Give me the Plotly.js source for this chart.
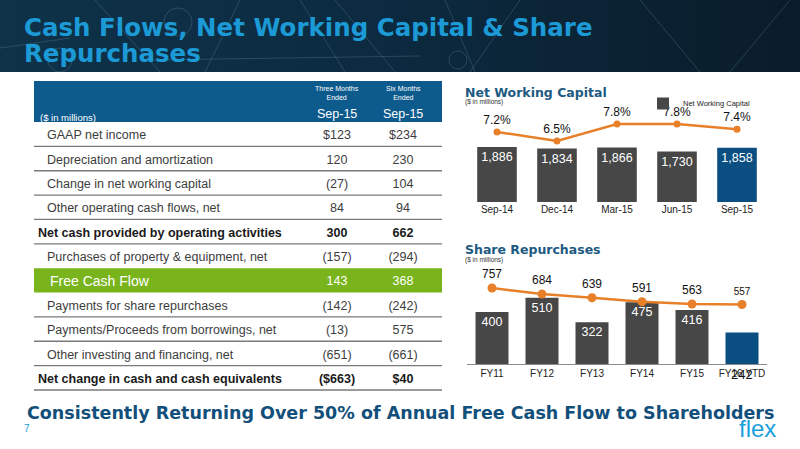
<!DOCTYPE html>
<html><head><meta charset="utf-8">
<script src="https://cdn.plot.ly/plotly-3.0.1.min.js"></script>
<style>
html,body{margin:0;padding:0;background:#fff;}
#wrap{position:relative;width:800px;height:449px;overflow:hidden;background:#fff;}
#banner{position:absolute;left:0;top:0;width:800px;height:72px;background:linear-gradient(90deg,#0f3249 0%,#0c2b41 45%,#0a1c29 100%);}
#chart{position:absolute;left:0;top:0;width:800px;height:449px;}
</style></head><body>
<div id="wrap"><div id="banner"></div><div id="chart"></div></div>
<script>
// ---------------- data ----------------
const slideTitle = ['Cash Flows, Net Working Capital & Share', 'Repurchases'];
const tableUnits = '($ in millions)';
const tablePeriods = ['Three Months<br>Ended', 'Six Months<br>Ended'];
const tablePeriodDates = ['Sep-15', 'Sep-15'];
const tableLabels = [
  'GAAP net income',
  'Depreciation and amortization',
  'Change in net working capital',
  'Other operating cash flows, net',
  'Net cash provided by operating activities',
  'Purchases of property & equipment, net',
  'Free Cash Flow',
  'Payments for share repurchases',
  'Payments/Proceeds from borrowings, net',
  'Other investing and financing, net',
  'Net change in cash and cash equivalents'
];
const threeMonths = ['$123', '120', '(27)', '84', '300', '(157)', '143', '(142)', '(13)', '(651)', '($663)'];
const sixMonths   = ['$234', '230', '104', '94', '662', '(294)', '368', '(242)', '575', '(661)', '$40'];

const nwcTitle = 'Net Working Capital';
const nwcQuarters = ['Sep-14', 'Dec-14', 'Mar-15', 'Jun-15', 'Sep-15'];
const nwcValues = [1886, 1834, 1866, 1730, 1858];
const nwcPct = [7.2, 6.5, 7.8, 7.8, 7.4];

const repTitle = 'Share Repurchases';
const repYears = ['FY11', 'FY12', 'FY13', 'FY14', 'FY15', 'FY16 YTD'];
const repValues = [400, 510, 322, 475, 416, 242];
const repLine = [757, 684, 639, 591, 563, 557];

const unitsNote = '($ in millions)';
const footerText = 'Consistently Returning Over 50% of Annual Free Cash Flow to Shareholders';
const pageNumber = '7';
const logoText = 'flex';

// ---------------- styles ----------------
const W = 800, H = 449;
const X = px => px / W;
const Y = px => 1 - px / H;
const boldRows = [4, 10];
const fcfRow = 6;
const GRAY = '#474747', NAVY = '#0b4f82', ORANGE = '#e8802a', GREEN = '#79b41c';
const TBL_BLUE = '#0d5a8c';
const SANS = '"Liberation Sans", Arial, sans-serif';
const DV = '"DejaVu Sans", sans-serif';

const tblLeft = 34, tblRight = 442, tblTop = 81, hdrBottom = 122, tblBottom = 390;
const rowH = (tblBottom - hdrBottom) / tableLabels.length;
const textDrop = 2;                     // optical centring of row text
const colCenter = [337, 403];           // pixel centres of the two value columns
const indentFor = i => boldRows.includes(i) ? 38 : (i === fcfRow ? 50 : 47);

const rowIdx = tableLabels.map((t, i) => i);
const rowColor = i => i === fcfRow ? '#ffffff' : (boldRows.includes(i) ? '#1a1a1a' : '#3d3d3d');
const wrapBold = (t, i) => boldRows.includes(i) ? '<b>' + t + '</b>' : t;

const tblLabelTrace = {
  type: 'scatter', mode: 'text', xaxis: 'x3', yaxis: 'y5',
  x: tableLabels.map((t, i) => indentFor(i) - tblLeft), y: rowIdx,
  text: tableLabels.map(wrapBold), textposition: 'middle right',
  textfont: {family: SANS, size: tableLabels.map((t, i) => i === fcfRow ? 14 : 12.5), color: tableLabels.map((t, i) => rowColor(i))},
  showlegend: false, hoverinfo: 'skip', cliponaxis: false
};
const valueTrace = (vals, c) => ({
  type: 'scatter', mode: 'text', xaxis: 'x3', yaxis: 'y5',
  x: vals.map(() => colCenter[c] - tblLeft), y: rowIdx,
  text: vals.map(wrapBold), textposition: 'middle center',
  textfont: {family: SANS, size: 12.5, color: vals.map((t, i) => rowColor(i))},
  showlegend: false, hoverinfo: 'skip', cliponaxis: false
});

const fmt = v => v.toLocaleString('en-US');

const nwcBars = {
  type: 'bar', name: nwcTitle, x: nwcQuarters, y: nwcValues, xaxis: 'x', yaxis: 'y',
  marker: {color: nwcValues.map((v, i) => i === nwcValues.length - 1 ? NAVY : GRAY)},
  text: nwcValues.map(fmt), textposition: 'inside', insidetextanchor: 'end', textangle: 0,
  insidetextfont: {family: SANS, size: 12.5, color: '#ffffff'},
  showlegend: true
};
const nwcLine = {
  type: 'scatter', mode: 'lines+markers+text', x: nwcQuarters, y: nwcPct, xaxis: 'x', yaxis: 'y2',
  line: {color: ORANGE, width: 2.5}, marker: {color: ORANGE, size: 7},
  text: nwcPct.map(v => v.toFixed(1) + '%'), textposition: 'top center',
  textfont: {family: SANS, size: 12, color: '#111111'}, showlegend: false, cliponaxis: false
};
const repBars = {
  type: 'bar', name: repTitle, x: repYears, y: repValues, xaxis: 'x2', yaxis: 'y3',
  marker: {color: repValues.map((v, i) => i === repValues.length - 1 ? NAVY : GRAY)},
  text: repValues.map((v, i) => i === repValues.length - 1 ? '' : String(v)),
  textposition: 'inside', insidetextanchor: 'end', textangle: 0,
  insidetextfont: {family: SANS, size: 12.5, color: '#ffffff'},
  showlegend: false
};
const repLineTr = {
  type: 'scatter', mode: 'lines+markers+text', x: repYears, y: repLine, xaxis: 'x2', yaxis: 'y4',
  line: {color: ORANGE, width: 2.5}, marker: {color: ORANGE, size: 9},
  text: repLine.map(String), textposition: 'top center',
  textfont: {family: SANS, size: repLine.map((v, i) => i === repLine.length - 1 ? 10 : 12), color: '#111111'},
  showlegend: false, cliponaxis: false
};

const shapes = [];
// table header band and Free Cash Flow row
shapes.push({type: 'rect', xref: 'paper', yref: 'paper', x0: X(tblLeft), x1: X(tblRight), y0: Y(hdrBottom), y1: Y(tblTop),
  fillcolor: TBL_BLUE, line: {width: 0}, layer: 'below'});
shapes.push({type: 'rect', xref: 'paper', yref: 'paper', x0: X(tblLeft), x1: X(tblRight),
  y0: Y(hdrBottom + rowH * (fcfRow + 1)), y1: Y(hdrBottom + rowH * fcfRow),
  fillcolor: GREEN, line: {width: 0}, layer: 'below'});
// row separators
rowIdx.forEach(i => {
  if (i === fcfRow || i === fcfRow - 1) return;
  const y = hdrBottom + rowH * (i + 1);
  shapes.push({type: 'line', xref: 'paper', yref: 'paper', x0: X(tblLeft), x1: X(tblRight), y0: Y(y), y1: Y(y),
    line: {color: '#7a7a7a', width: 1.3}});
});
// banner decoration
const deco = 'rgba(150,180,200,0.22)';
[[0,48,70,38],[95,0,160,72],[240,0,205,72],[300,0,345,72],[335,0,395,72],[445,0,475,72],[520,0,470,72],[640,0,700,72],[790,0,730,72],[150,60,420,56]].forEach(l => {
  shapes.push({type: 'line', xref: 'paper', yref: 'paper', x0: X(l[0]), y0: Y(l[1]), x1: X(l[2]), y1: Y(l[3]), line: {color: deco, width: 1}});
});
[[178, 22, 14], [458, 60, 9], [60, 60, 12]].forEach(c => {
  shapes.push({type: 'circle', xref: 'paper', yref: 'paper', x0: X(c[0]-c[2]), x1: X(c[0]+c[2]), y0: Y(c[1]+c[2]), y1: Y(c[1]-c[2]), line: {color: deco, width: 1}});
});

const P = {xref: 'paper', yref: 'paper', showarrow: false};
const annotations = [
  {...P, text: tableUnits, x: X(tblLeft + 4), y: Y(117), xanchor: 'left', yanchor: 'middle',
   font: {family: SANS, size: 9.5, color: '#ffffff'}},
  ...tablePeriods.map((t, i) => ({...P, text: t, x: X(colCenter[i]), y: Y(93.5), xanchor: 'center', yanchor: 'middle',
   font: {family: SANS, size: 7, color: '#ffffff'}})),
  ...tablePeriodDates.map((t, i) => ({...P, text: t, x: X(colCenter[i]), y: Y(114), xanchor: 'center', yanchor: 'middle',
   font: {family: SANS, size: 12.5, color: '#ffffff'}})),
  {...P, text: nwcTitle, x: X(463), y: Y(92), xanchor: 'left', yanchor: 'middle',
   font: {family: DV, size: 12.5, weight: 700, color: '#1d5a82'}},
  {...P, text: unitsNote, x: X(463), y: Y(102), xanchor: 'left', yanchor: 'middle',
   font: {family: SANS, size: 6.5, color: '#333333'}},
  {...P, text: repTitle, x: X(463), y: Y(249), xanchor: 'left', yanchor: 'middle',
   font: {family: DV, size: 12.5, weight: 700, color: '#1d5a82'}},
  {...P, text: unitsNote, x: X(463), y: Y(260), xanchor: 'left', yanchor: 'middle',
   font: {family: SANS, size: 6.5, color: '#333333'}},
  {text: String(repValues[repValues.length - 1]), x: repYears[repYears.length - 1], y: 0, xref: 'x2', yref: 'y3',
   yanchor: 'top', yshift: -1, showarrow: false, font: {family: SANS, size: 13, color: '#111111'}},
  {...P, text: footerText, x: X(400), y: Y(413), xanchor: 'center', yanchor: 'middle',
   font: {family: DV, size: 17.5, weight: 700, color: '#124f7a'}},
  {...P, text: pageNumber, x: X(22), y: Y(428), xanchor: 'left', yanchor: 'middle',
   font: {family: SANS, size: 10, color: '#1a9ad6'}},
  {...P, text: logoText, x: X(778), y: Y(428), xanchor: 'right', yanchor: 'middle',
   font: {family: SANS, size: 24, color: '#1aa0dc'}}
];

const layout = {
  width: W, height: H,
  margin: {l: 0, r: 0, t: 0, b: 0},
  paper_bgcolor: 'rgba(0,0,0,0)', plot_bgcolor: 'rgba(0,0,0,0)',
  title: {
    text: slideTitle.map(t => '<span style="font-size:24.5px">' + t + '</span>').join('<br>'),
    x: X(24), xanchor: 'left', xref: 'paper', y: Y(36), yref: 'container', yanchor: 'top',
    font: {family: DV, size: 20, weight: 700, color: '#1b9ad6'}
  },
  bargap: 0.34,
  showlegend: true,
  legend: {x: X(643), y: Y(89), xanchor: 'left', yanchor: 'top', orientation: 'h', bgcolor: 'rgba(0,0,0,0)',
    font: {family: SANS, size: 7.5, color: '#222222'}, itemwidth: 30},
  xaxis: {domain: [X(467), X(767)], anchor: 'y', showgrid: false, zeroline: false, showline: false, ticks: '',
    tickfont: {family: SANS, size: 10, color: '#222222'}, fixedrange: true},
  yaxis: {domain: [Y(202), Y(100)], range: [0, 3500], visible: false, fixedrange: true},
  yaxis2: {overlaying: 'y', range: [1.84, 9.64], visible: false, fixedrange: true},
  xaxis2: {domain: [X(467), X(767)], anchor: 'y3', showgrid: false, zeroline: false, showline: true,
    linecolor: '#8c8c8c', linewidth: 1, ticks: '', tickfont: {family: SANS, size: 10, color: '#222222'}, fixedrange: true},
  yaxis3: {domain: [Y(364), Y(266)], range: [0, 754], visible: false, fixedrange: true},
  yaxis4: {overlaying: 'y3', range: [-164, 1024], visible: false, fixedrange: true},
  xaxis3: {domain: [X(tblLeft), X(tblRight)], range: [0, tblRight - tblLeft], anchor: 'y5', visible: false, fixedrange: true},
  yaxis5: {domain: [Y(tblBottom + textDrop), Y(hdrBottom + textDrop)], range: [tableLabels.length - 0.5, -0.5], anchor: 'x3', visible: false, fixedrange: true},
  shapes: shapes,
  annotations: annotations
};

Plotly.newPlot('chart', [tblLabelTrace, valueTrace(threeMonths, 0), valueTrace(sixMonths, 1), nwcBars, nwcLine, repBars, repLineTr],
  layout, {displayModeBar: false, staticPlot: true});
</script>
</body></html>
